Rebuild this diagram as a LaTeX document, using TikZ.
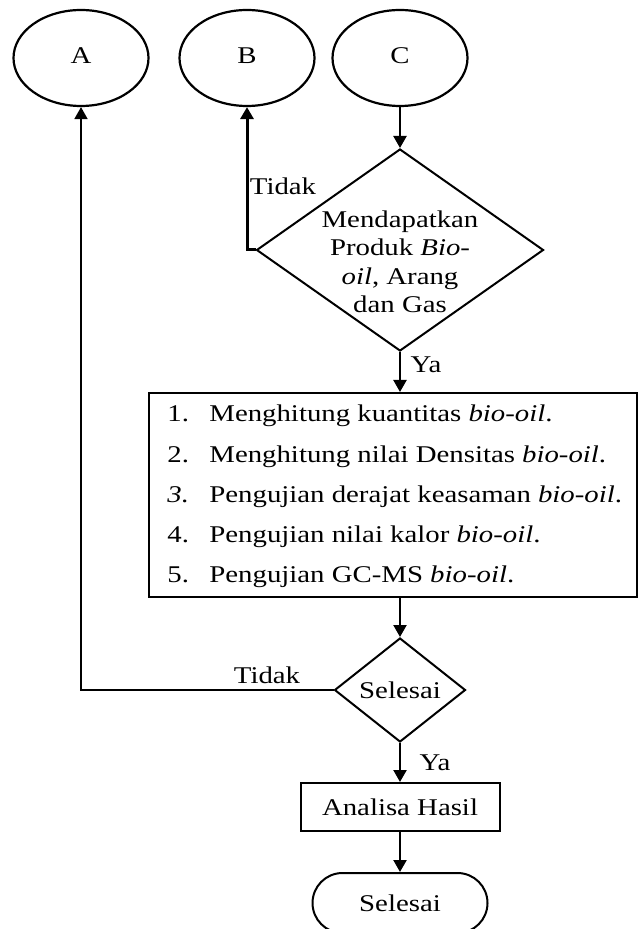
\documentclass[tikz,border=0pt]{standalone}
\usepackage{fontspec}
\setmainfont{Liberation Serif}[FakeStretch=1.2]
\usetikzlibrary{arrows.meta,shapes.geometric,shapes.misc,positioning}

\tikzset{
  konektor/.style={draw, ellipse, line width=1.1pt, minimum width=67.5pt, minimum height=48pt, inner sep=0pt},
  keputusan/.style={draw, diamond, line width=1pt, inner sep=0pt},
  proses/.style={draw, rectangle, line width=1pt, inner sep=0pt},
  terminal/.style={draw, rounded rectangle, line width=1pt, inner sep=0pt},
  alur/.style={line width=1.1pt, -{Triangle[length=6pt,width=6.5pt]}},
  ket/.style={inner sep=0pt}
}

\begin{document}
\begin{tikzpicture}[x=0.5pt,y=-0.5pt,font=\fontsize{12}{14}\selectfont]
\useasboundingbox (0,0) rectangle (639,929);

% penghubung
\node[konektor] (A) at (81,58) {\raisebox{2.5pt}{A}};
\node[konektor] (B) at (247,58) {\raisebox{2.5pt}{B}};
\node[konektor] (C) at (400,58) {\raisebox{2.5pt}{C}};

% cek produk
\node[keputusan, minimum width=143.5pt, minimum height=101pt] (cek) at (400,250) {};
\node[ket, align=center, font=\fontsize{12}{14.25}\selectfont] (cekteks) at (400,262)
  {Mendapatkan\\Produk \textit{Bio}-\\\textit{oil}, Arang\\dan Gas};
\draw[alur] (C) -- (cek);
\draw[alur, line width=1.5pt] (cek.west) -| (B.south);
\node[ket] (tidak1) at (283,186) {Tidak};

% pengujian
\node[proses, minimum width=244pt, minimum height=102pt] (uji) at (393,495) {};
\foreach \no/\isi [count=\k from 0] in {
  1./{Menghitung kuantitas \textit{bio-oil}.},
  2./{Menghitung nilai Densitas \textit{bio-oil}.},
  {\textit{3.}}/{Pengujian derajat keasaman \textit{bio-oil}.},
  4./{Pengujian nilai kalor \textit{bio-oil}.},
  5./{Pengujian GC-MS \textit{bio-oil}.}}
{
  \node[ket, anchor=base west] (no\k) at (167,422+40*\k) {\no};
  \node[ket, anchor=base west] (item\k) at (209,422+40*\k) {\isi};
}
\draw[alur] (cek.south) -- (cek.south |- uji.north);
\node[ket] (ya1) at (426,365) {Ya};

% selesai?
\node[keputusan, minimum width=65.5pt, minimum height=52pt] (selesai) at (400,690) {Selesai};
\draw[alur] (selesai.north |- uji.south) -- (selesai.north);
\draw[alur, line width=0.9pt] (selesai.west) -| (A.south);
\node[ket] (tidak2) at (267,675) {Tidak};

% hasil
\node[proses, minimum width=99.5pt, minimum height=24pt] (analisa) at (400,807) {Analisa Hasil};
\draw[alur] (selesai.south) -- (analisa.north);
\node[ket] (ya2) at (435,763) {Ya};

\node[terminal, minimum width=87.5pt, minimum height=30pt] (akhir) at (400,903) {Selesai};
\draw[alur] (analisa.south) -- (akhir.north);
\end{tikzpicture}
\end{document}
